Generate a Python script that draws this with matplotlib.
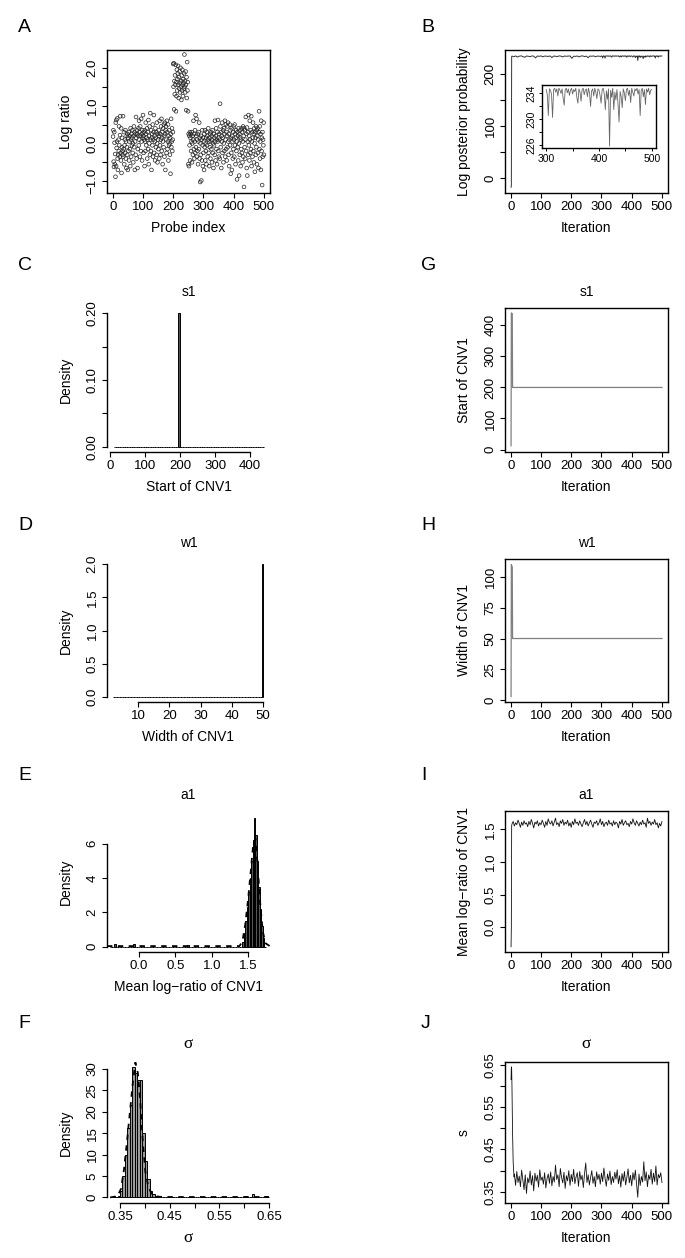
import numpy as np
import matplotlib
matplotlib.use('Agg')
import matplotlib.pyplot as plt

plt.rcParams['font.family'] = ['Liberation Sans', 'DejaVu Sans']
plt.rcParams['font.size'] = 10

# ---------------- data ----------------
# A: log ratio per probe (probes 1..500)
probe_logratio = [
    0.18, 0.35, -0.48, -0.62, 0.30, 0.02, -0.55, -0.28, -0.88, 0.55, -0.60, 0.62, -0.12, 0.05, 0.66, -0.40, -0.70, -0.30, 0.10, -0.20, 0.45, -0.05, -0.35, 0.22, 0.72,
    -0.25, -0.45, 0.40, -0.78, -0.10, 0.15, -0.30, -0.20, 0.72, -0.35, -0.15, 0.30, -0.55, -0.05, 0.10, -0.25, 0.35, -0.40, 0.05, -0.65, 0.20, -0.10, -0.30, 0.25, -0.70,
    0.15, -0.20, 0.30, -0.45, 0.05, 0.20, -0.15, -0.60, 0.40, 0.10, -0.35, 0.25, -0.05, 0.15, 0.35, -0.25, 0.00, -0.50, 0.20, 0.45, -0.10, 0.30, -0.70, 0.05, 0.25,
    -0.30, 0.70, 0.15, -0.40, 0.35, 0.25, -0.65, -0.15, 0.20, 0.40, -0.05, 0.60, 0.10, 0.30, -0.35, 0.45, 0.20, -0.20, 0.65, 0.05, 0.25, -0.45, 0.35, 0.15, 0.75,
    0.20, -0.25, 0.30, 0.10, -0.60, 0.35, 0.05, -0.20, 0.55, 0.25, -0.05, 0.15, 0.40, -0.40, 0.10, 0.30, -0.15, 0.62, -0.55, 0.20, 0.00, 0.45, -0.30, 0.80, 0.10,
    -0.20, 0.35, -0.70, 0.15, 0.25, -0.05, 0.50, -0.35, 0.10, 0.30, 0.75, -0.25, 0.20, 0.05, -0.45, 0.40, 0.15, -0.10, 0.30, -0.30, 0.55, 0.00, -0.50, 0.25, 0.10,
    -0.15, 0.35, 0.20, -0.40, 0.60, -0.05, 0.25, -0.30, 0.10, 0.45, 0.65, -0.20, 0.15, 0.30, -0.55, 0.05, 0.40, -0.10, 0.50, 0.20, -0.35, 0.55, 0.25, -0.70, 0.35,
    0.45, 0.10, -0.25, 0.60, 0.30, -0.15, 0.05, 0.50, -0.45, 0.20, -0.05, 0.35, 0.00, -0.30, 0.15, -0.80, 0.25, 0.65, -0.10, 0.05, 0.40, -0.20, 0.10, 0.30, 2.10,
    1.50, 2.12, 0.90, 1.65, 1.30, 1.80, 1.55, 2.08, 0.85, 1.62, 1.25, 1.95, 1.40, 1.70, 1.85, 2.05, 1.55, 1.20, 1.75, 1.45, 1.90, 1.60, 1.35, 2.00, 1.50,
    1.65, 1.15, 1.80, 1.40, 1.95, 1.55, 1.25, 1.70, 1.60, 1.45, 1.85, 2.35, 1.50, 1.65, 1.35, 1.90, 1.55, 0.88, 1.75, 1.20, 2.15, 1.40, 1.62, 0.85, -0.55,
    0.25, -0.60, 0.20, -0.05, 0.30, -0.45, 0.15, 0.25, -0.20, 0.05, 0.30, -0.50, 0.00, 0.20, -0.30, 0.10, 0.60, -0.15, 0.25, -0.40, 0.05, 0.35, -0.25, 0.75, -0.10,
    0.20, 0.65, -0.35, 0.10, -0.20, 0.25, -0.55, 0.05, 0.30, -0.15, 0.55, -0.40, 0.15, -1.02, 0.00, -0.30, 0.20, -0.98, 0.10, -0.45, 0.35, -0.05, -0.60, 0.15, -0.25,
    0.05, -0.70, 0.25, -0.10, 0.35, -0.45, 0.00, -0.20, 0.15, -0.55, 0.30, -0.05, 0.20, -0.35, 0.10, 0.40, -0.25, 0.05, -0.60, 0.15, -0.10, 0.25, -0.40, 0.05, 0.30,
    -0.15, 0.20, -0.50, 0.10, 0.35, -0.25, 0.00, -0.65, 0.25, -0.05, 0.15, -0.30, 0.60, 0.05, -0.45, 0.20, 0.40, -0.15, 0.10, -0.55, 0.30, 0.05, 0.62, -0.20, 0.15,
    -0.35, 0.25, 0.10, -0.40, 1.05, 0.45, -0.10, 0.30, -0.65, 0.20, 0.05, 0.55, -0.25, 0.15, 0.35, -0.50, 0.00, 0.40, -0.20, 0.25, 0.60, -0.35, 0.10, 0.50, -0.15,
    0.30, -0.45, 0.20, 0.45, -0.10, 0.55, 0.05, -0.30, 0.25, -0.60, 0.10, 0.50, -0.05, 0.35, -0.80, 0.15, -0.25, 0.40, -0.70, 0.20, 0.05, -0.40, 0.30, -0.15, 0.45,
    0.10, -0.35, 0.50, -0.05, 0.25, -0.55, 0.15, 0.35, -0.20, 0.05, -0.95, 0.30, -0.10, 0.20, -0.45, 0.40, 0.00, -0.85, 0.25, -0.30, 0.15, 0.35, -0.60, 0.10, -0.15,
    0.40, -0.25, 0.30, -0.50, 0.05, 0.45, -0.35, 0.20, -1.15, 0.40, -0.10, 0.35, -0.40, 0.10, 0.70, -0.20, 0.25, -0.65, 0.42, -0.85, 0.05, 0.30, -0.30, 0.75, -0.05,
    0.20, -0.45, 0.60, 0.10, -0.25, 0.35, -0.15, 0.72, -0.60, 0.05, 0.30, -0.35, 0.15, 0.55, -0.20, 0.25, -0.50, 0.40, 0.00, -0.75, 0.30, 0.15, -0.30, 0.45, -0.10,
    0.35, -0.55, 0.20, 0.40, -0.25, 0.10, -0.65, 0.30, 0.85, -0.15, 0.45, -0.40, 0.05, 0.25, -0.70, 0.60, -0.20, 0.15, -1.10, 0.30, -0.35, 0.10, -0.05, 0.55, -0.30,
]
probe_index = np.arange(1, len(probe_logratio) + 1)

# B: log posterior probability trace
logpost_head_iter = [1, 2, 3]
logpost_head = [-18.0, -15.0, 233.2]
logpost_mid_iter = np.arange(4, 299, 6)
logpost_mid = [
    234.3, 233.1, 234.6, 232.4, 234.1, 234.7, 233.5, 231.9, 234.4, 234.0,
    233.2, 234.6, 234.2, 230.8, 234.5, 233.8, 234.7, 232.9, 234.3, 234.1,
    233.6, 234.6, 231.5, 234.4, 234.0, 233.3, 234.7, 234.2, 232.6, 234.5,
    233.9, 234.3, 234.6, 229.9, 234.1, 233.7, 234.5, 232.8, 234.4, 234.6,
    233.4, 234.2, 231.2, 234.5, 233.9, 234.7, 233.0, 234.3, 234.1, 233.6,
]
logpost_tail_iter = np.arange(300, 501, 2)
logpost_tail = [
    234.6, 233.8, 230.6, 234.7, 234.5, 233.9, 230.3, 234.6, 234.8, 234.2,
    234.7, 233.6, 234.8, 234.5, 234.0, 234.7, 233.3, 232.2, 234.6, 234.8,
    234.1, 234.7, 233.7, 234.5, 234.8, 233.9, 234.6, 234.3, 234.8, 233.4,
    232.5, 234.7, 234.2, 232.8, 234.6, 234.8, 233.8, 234.5, 234.7, 233.5,
    234.8, 234.1, 232.0, 234.4, 234.7, 233.6, 234.8, 234.2, 233.2, 234.7,
    234.5, 233.7, 232.5, 234.6, 234.8, 233.9, 231.5, 234.4, 233.1, 234.7,
    225.9, 234.5, 233.4, 234.8, 231.5, 234.2, 233.0, 234.6, 232.4, 229.6,
    234.3, 233.5, 231.8, 234.7, 234.1, 232.9, 234.6, 234.8, 233.7, 234.5,
    232.6, 234.8, 234.2, 233.6, 234.7, 234.4, 234.8, 233.9, 234.6, 230.6,
    234.5, 234.8, 233.5, 234.6, 232.3, 234.7, 234.2, 234.8, 233.8, 234.5,
    234.6,
]

# G, H: s1 and w1 traces
s1_iter = [1, 2, 5, 6, 500]
s1_trace = [12, 440, 438, 200, 200]
w1_iter = [1, 2, 5, 6, 500]
w1_trace = [3, 110, 108, 50, 50]

# I: a1 trace
a1_head_iter = [1, 2, 3]
a1_head = [-0.30, 0.00, 1.55]
a1_chain_iter = np.arange(4, 501, 4)
a1_chain = [
    1.58, 1.62, 1.55, 1.60, 1.57, 1.64, 1.59, 1.53, 1.61, 1.56, 1.63, 1.58,
    1.60, 1.54, 1.62, 1.57, 1.65, 1.59, 1.52, 1.61, 1.58, 1.63, 1.55, 1.60,
    1.57, 1.64, 1.59, 1.53, 1.62, 1.56, 1.66, 1.60, 1.58, 1.63, 1.55, 1.61,
    1.67, 1.57, 1.60, 1.54, 1.63, 1.59, 1.65, 1.56, 1.61, 1.58, 1.64, 1.55,
    1.60, 1.53, 1.62, 1.57, 1.66, 1.59, 1.61, 1.56, 1.63, 1.58, 1.54, 1.60,
    1.65, 1.57, 1.62, 1.55, 1.60, 1.64, 1.58, 1.53, 1.61, 1.59, 1.63, 1.56,
    1.60, 1.66, 1.57, 1.62, 1.54, 1.59, 1.61, 1.56, 1.64, 1.58, 1.60, 1.55,
    1.63, 1.57, 1.61, 1.59, 1.52, 1.62, 1.58, 1.65, 1.56, 1.60, 1.63, 1.57,
    1.59, 1.54, 1.62, 1.58, 1.66, 1.60, 1.56, 1.63, 1.59, 1.55, 1.61, 1.57,
    1.64, 1.58, 1.60, 1.53, 1.67, 1.59, 1.62, 1.56, 1.61, 1.58, 1.65, 1.57,
    1.60, 1.52, 1.59, 1.55, 1.62,
]

# J: sigma trace
sigma_head_iter = [1, 2, 3, 4, 5, 6, 7, 8, 9, 10, 11]
sigma_head = [0.615, 0.645, 0.640, 0.600, 0.540, 0.490, 0.450, 0.420, 0.405, 0.395, 0.385]
sigma_chain_iter = np.arange(12, 501, 4)
sigma_chain = [
    0.392, 0.365, 0.398, 0.372, 0.387, 0.362, 0.401, 0.378, 0.355, 0.390, 0.346, 0.383,
    0.371, 0.399, 0.366, 0.388, 0.352, 0.394, 0.375, 0.389, 0.361, 0.402, 0.377, 0.385,
    0.368, 0.395, 0.359, 0.381, 0.392, 0.370, 0.397, 0.364, 0.386, 0.373, 0.413, 0.379,
    0.390, 0.362, 0.405, 0.384, 0.371, 0.396, 0.358, 0.388, 0.376, 0.400, 0.365, 0.391,
    0.374, 0.403, 0.369, 0.385, 0.395, 0.363, 0.398, 0.378, 0.389, 0.360, 0.393, 0.418,
    0.372, 0.390, 0.366, 0.384, 0.400, 0.370, 0.386, 0.362, 0.397, 0.379, 0.391, 0.368,
    0.394, 0.374, 0.406, 0.381, 0.363, 0.392, 0.377, 0.399, 0.367, 0.386, 0.372, 0.396,
    0.380, 0.402, 0.369, 0.388, 0.361, 0.393, 0.375, 0.398, 0.366, 0.384, 0.404, 0.371,
    0.389, 0.364, 0.395, 0.378, 0.401, 0.370, 0.337, 0.392, 0.365, 0.386, 0.373, 0.421,
    0.376, 0.397, 0.362, 0.390, 0.379, 0.403, 0.368, 0.394, 0.374, 0.411, 0.366, 0.391,
    0.383, 0.395, 0.372,
]

# C: s1 histogram (bin width 5)
s1_bin_range = (10, 440)
s1_bin_width = 5
s1_peak_bin = 195
s1_peak_density = 0.20

# D: w1 histogram (bin width 0.5)
w1_bin_range = (2, 50)
w1_bin_width = 0.5
w1_peak_bin = 49.5
w1_peak_density = 2.0

# E: a1 histogram (bin width 0.02)
a1_bin_range = (-0.40, 1.74)
a1_bin_width = 0.02
a1_peak_start = 1.42
a1_peak_density = [0.3, 0.8, 1.5, 2.3, 3.2, 4.0, 5.0, 6.2, 7.5, 6.5, 5.0, 3.5, 2.2, 1.2, 0.5]
a1_minor_bins = [-0.34, -0.08, 0.66]
a1_minor_density = [0.15, 0.15, 0.10]
a1_kde_x = [-0.44, 1.38, 1.42, 1.46, 1.50, 1.54, 1.57, 1.60, 1.63, 1.66, 1.70, 1.74, 1.80]
a1_kde_y = [0.04, 0.04, 0.3, 1.3, 2.8, 4.6, 6.0, 6.3, 4.8, 2.8, 0.9, 0.2, 0.03]

# F: sigma histogram (bin width 0.005)
sigma_bin_range = (0.335, 0.650)
sigma_bin_width = 0.005
sigma_peak_start = 0.335
sigma_peak_density = [0.4, 0.0, 0.4, 1.5, 5.0, 10.0, 16.3, 21.5, 30.5, 29.0, 27.5,
                      27.5, 15.0, 8.6, 4.3, 1.6, 0.8, 0.4]
sigma_minor_bins = [0.600, 0.615, 0.640]
sigma_minor_density = [0.4, 0.8, 0.3]
sigma_kde_x = [0.33, 0.345, 0.352, 0.358, 0.364, 0.370, 0.376, 0.381, 0.386, 0.391,
               0.396, 0.401, 0.407, 0.414, 0.420, 0.430, 0.450, 0.650]
sigma_kde_y = [0.0, 0.3, 2.0, 6.5, 13.0, 20.0, 27.0, 31.5, 29.0, 22.0,
               13.0, 6.0, 2.5, 0.8, 0.3, 0.15, 0.1, 0.1]

iter_ticks = [0, 100, 200, 300, 400, 500]

# ---------------- figure layout (pixel boxes) ----------------
W, H = 685, 1258
fig = plt.figure(figsize=(W / 100, H / 100), dpi=100)

LEFT = (107, 270)
RIGHT = (505, 668)
ROWS = [(50, 193), (308, 452), (559, 702), (811, 952), (1062, 1203)]
TICK_FS = 9.5
SERIF = ['Liberation Serif', 'DejaVu Serif']


def axes_px(col, row):
    l, r = col
    t, b = row
    return fig.add_axes([l / W, 1 - b / H, (r - l) / W, (b - t) / H])


def style(ax, box=True):
    ax.tick_params(direction='out', length=3.5, width=0.8, labelsize=TICK_FS, colors='black')
    ax.tick_params(axis='x', pad=2)
    ax.tick_params(axis='y', pad=2.5, labelrotation=90)
    for s in ax.spines.values():
        s.set_linewidth(1.0)
    if not box:
        ax.spines['top'].set_visible(False)
        ax.spines['right'].set_visible(False)


def labels(ax, xlabel, ylabel, title=None, serif_x=False, serif_title=False):
    bb = ax.get_position()
    w = bb.width * W
    h = bb.height * H
    if serif_x:
        ax.set_xlabel(xlabel, va='center', family=SERIF, fontsize=12.5)
    else:
        ax.set_xlabel(xlabel, va='center')
    ax.xaxis.set_label_coords(0.5, -35 / h)
    ax.set_ylabel(ylabel, va='center')
    ax.yaxis.set_label_coords(-41 / w, 0.5)
    if title is not None:
        if serif_title:
            ax.set_title(title, pad=0, y=1 + 18 / h, va='center', family=SERIF, fontsize=12.5)
        else:
            ax.set_title(title, pad=0, y=1 + 16 / h, va='center', fontsize=10)


def yticks(ax, ticks, labs):
    ax.set_yticks(ticks)
    ax.set_yticklabels(labs)
    for lbl in ax.get_yticklabels():
        lbl.set_va('center')


def hist_bars(ax, lo, hi, width, heights, fill):
    edges = np.arange(lo, hi - width / 2, width)
    ax.bar(edges, heights, width=width, align='edge', color=fill,
           edgecolor='black', linewidth=0.7)


def letter(x, y, s):
    fig.text(x / W, 1 - y / H, s, fontsize=14, ha='left', va='center')


# A: probe log ratios
ax = axes_px(LEFT, ROWS[0])
ax.scatter(probe_index, probe_logratio, s=7, facecolors='none', edgecolors='#222222', linewidths=0.5)
ax.set_xlim(-19, 520)
ax.set_ylim(-1.31, 2.47)
ax.set_xticks(iter_ticks)
style(ax)
yticks(ax, [-1, -0.5, 0, 0.5, 1, 1.5, 2], ['\u22121.0', '', '0.0', '', '1.0', '', '2.0'])
labels(ax, 'Probe index', 'Log ratio')
letter(18, 28, 'A')

# B: log posterior probability
ax = axes_px(RIGHT, ROWS[0])
lp_iter = np.concatenate([logpost_head_iter, logpost_mid_iter, logpost_tail_iter])
lp_vals = np.concatenate([logpost_head, logpost_mid, logpost_tail])
ax.plot(lp_iter, lp_vals, color='#333333', lw=0.7)
ax.set_xlim(-19, 520)
ax.set_ylim(-29, 246)
ax.set_xticks(iter_ticks)
style(ax)
yticks(ax, [0, 50, 100, 150, 200], ['0', '', '100', '', '200'])
labels(ax, 'Iteration', 'Log posterior probability')
letter(421, 28, 'B')

ins = fig.add_axes([542 / W, 1 - 148 / H, (656 - 542) / W, (148 - 85) / H])
ins.plot(logpost_tail_iter, logpost_tail, color='#666666', lw=0.6)
ins.set_xlim(292, 508)
ins.set_ylim(225.6, 235.3)
ins.set_xticks([300, 350, 400, 450, 500])
ins.set_xticklabels(['300', '', '400', '', '500'])
ins.tick_params(direction='out', length=2.5, width=0.7, labelsize=7.5, pad=1.5)
ins.tick_params(axis='y', labelrotation=90)
for s in ins.spines.values():
    s.set_linewidth(1.0)
yticks(ins, [226, 228, 230, 232, 234], ['226', '', '230', '', '234'])

# C: s1 histogram
ax = axes_px(LEFT, ROWS[1])
s1_edges = np.arange(s1_bin_range[0], s1_bin_range[1] - s1_bin_width / 2, s1_bin_width)
s1_heights = np.where(np.isclose(s1_edges, s1_peak_bin), s1_peak_density, 0.0)
hist_bars(ax, s1_bin_range[0], s1_bin_range[1], s1_bin_width, s1_heights, '#555555')
ax.set_xlim(-8.6, 457)
ax.set_ylim(-0.008, 0.208)
ax.set_xticks([0, 100, 200, 300, 400])
style(ax, box=False)
yticks(ax, [0, 0.05, 0.10, 0.15, 0.20], ['0.00', '', '0.10', '', '0.20'])
ax.spines['left'].set_bounds(0, 0.2)
ax.spines['bottom'].set_bounds(0, 400)
labels(ax, 'Start of CNV1', 'Density', 's1')
letter(18, 265, 'C')

# G: s1 trace
ax = axes_px(RIGHT, ROWS[1])
ax.plot(s1_iter, s1_trace, color='#808080', lw=0.9)
ax.set_xlim(-19, 520)
ax.set_ylim(-8, 456)
ax.set_xticks(iter_ticks)
style(ax)
yticks(ax, [0, 100, 200, 300, 400], ['0', '100', '200', '300', '400'])
labels(ax, 'Iteration', 'Start of CNV1', 's1')
letter(421, 265, 'G')

# D: w1 histogram
ax = axes_px(LEFT, ROWS[2])
w1_edges = np.arange(w1_bin_range[0], w1_bin_range[1] - w1_bin_width / 2, w1_bin_width)
w1_heights = np.where(np.isclose(w1_edges, w1_peak_bin), w1_peak_density, 0.0)
hist_bars(ax, w1_bin_range[0], w1_bin_range[1], w1_bin_width, w1_heights, '#555555')
ax.set_xlim(0.08, 52.2)
ax.set_ylim(-0.08, 2.08)
ax.set_xticks([10, 20, 30, 40, 50])
style(ax, box=False)
yticks(ax, [0, 0.5, 1.0, 1.5, 2.0], ['0.0', '0.5', '1.0', '1.5', '2.0'])
ax.spines['left'].set_bounds(0, 2)
ax.spines['bottom'].set_bounds(10, 50)
labels(ax, 'Width of CNV1', 'Density', 'w1')
letter(18, 525, 'D')

# H: w1 trace
ax = axes_px(RIGHT, ROWS[2])
ax.plot(w1_iter, w1_trace, color='#808080', lw=0.9)
ax.set_xlim(-19, 520)
ax.set_ylim(-1.5, 114.5)
ax.set_xticks(iter_ticks)
style(ax)
yticks(ax, [0, 25, 50, 75, 100], ['0', '25', '50', '75', '100'])
labels(ax, 'Iteration', 'Width of CNV1', 'w1')
letter(421, 525, 'H')

# E: a1 histogram
ax = axes_px(LEFT, ROWS[3])
a1_edges = np.arange(a1_bin_range[0], a1_bin_range[1] - a1_bin_width / 2, a1_bin_width)
a1_heights = np.zeros(len(a1_edges))
k0 = int(round((a1_peak_start - a1_bin_range[0]) / a1_bin_width))
a1_heights[k0:k0 + len(a1_peak_density)] = a1_peak_density
for b, d in zip(a1_minor_bins, a1_minor_density):
    a1_heights[int(round((b - a1_bin_range[0]) / a1_bin_width))] = d
hist_bars(ax, a1_bin_range[0], a1_bin_range[1], a1_bin_width, a1_heights, '#555555')
ax.plot(a1_kde_x, a1_kde_y, color='black', lw=1.3, dashes=(3, 3))
ax.set_xlim(-0.44, 1.80)
ax.set_ylim(-0.304, 7.904)
ax.set_xticks([0.0, 0.5, 1.0, 1.5])
ax.set_xticklabels(['0.0', '0.5', '1.0', '1.5'])
style(ax, box=False)
yticks(ax, [0, 2, 4, 6], ['0', '2', '4', '6'])
ax.spines['left'].set_bounds(0, 6)
ax.spines['bottom'].set_bounds(0, 1.5)
labels(ax, 'Mean log\u2212ratio of CNV1', 'Density', 'a1')
letter(18, 775, 'E')

# I: a1 trace
ax = axes_px(RIGHT, ROWS[3])
ax.plot(np.concatenate([a1_head_iter, a1_chain_iter]), np.concatenate([a1_head, a1_chain]),
        color='#111111', lw=0.6)
ax.set_xlim(-19, 520)
ax.set_ylim(-0.38, 1.78)
ax.set_xticks(iter_ticks)
style(ax)
yticks(ax, [0.0, 0.5, 1.0, 1.5], ['0.0', '0.5', '1.0', '1.5'])
labels(ax, 'Iteration', 'Mean log\u2212ratio of CNV1', 'a1')
letter(421, 775, 'I')

# F: sigma histogram
ax = axes_px(LEFT, ROWS[4])
sg_edges = np.arange(sigma_bin_range[0], sigma_bin_range[1] - sigma_bin_width / 2, sigma_bin_width)
sg_heights = np.zeros(len(sg_edges))
k0 = int(round((sigma_peak_start - sigma_bin_range[0]) / sigma_bin_width))
sg_heights[k0:k0 + len(sigma_peak_density)] = sigma_peak_density
for b, d in zip(sigma_minor_bins, sigma_minor_density):
    sg_heights[int(round((b - sigma_bin_range[0]) / sigma_bin_width))] = d
hist_bars(ax, sigma_bin_range[0], sigma_bin_range[1], sigma_bin_width, sg_heights, '#9a9a9a')
ax.plot(sigma_kde_x, sigma_kde_y, color='black', lw=1.3, dashes=(3, 3))
ax.set_xlim(0.3238, 0.652)
ax.set_ylim(-1.3, 31.6)
ax.set_xticks([0.35, 0.40, 0.45, 0.50, 0.55, 0.60, 0.65])
ax.set_xticklabels(['0.35', '', '0.45', '', '0.55', '', '0.65'])
style(ax, box=False)
yticks(ax, [0, 5, 10, 15, 20, 25, 30], ['0', '5', '10', '15', '20', '25', '30'])
ax.spines['left'].set_bounds(0, 30)
ax.spines['bottom'].set_bounds(0.35, 0.65)
labels(ax, '\u03c3', 'Density', '\u03c3', serif_x=True, serif_title=True)
letter(18, 1023, 'F')

# J: sigma trace
ax = axes_px(RIGHT, ROWS[4])
ax.plot(np.concatenate([sigma_head_iter, sigma_chain_iter]), np.concatenate([sigma_head, sigma_chain]),
        color='#111111', lw=0.6)
ax.set_xlim(-19, 520)
ax.set_ylim(0.3235, 0.6565)
ax.set_xticks(iter_ticks)
style(ax)
yticks(ax, [0.35, 0.40, 0.45, 0.50, 0.55, 0.60, 0.65], ['0.35', '', '0.45', '', '0.55', '', '0.65'])
labels(ax, 'Iteration', 's', '\u03c3', serif_title=True)
letter(421, 1023, 'J')

fig.savefig('out.png', dpi=100)
